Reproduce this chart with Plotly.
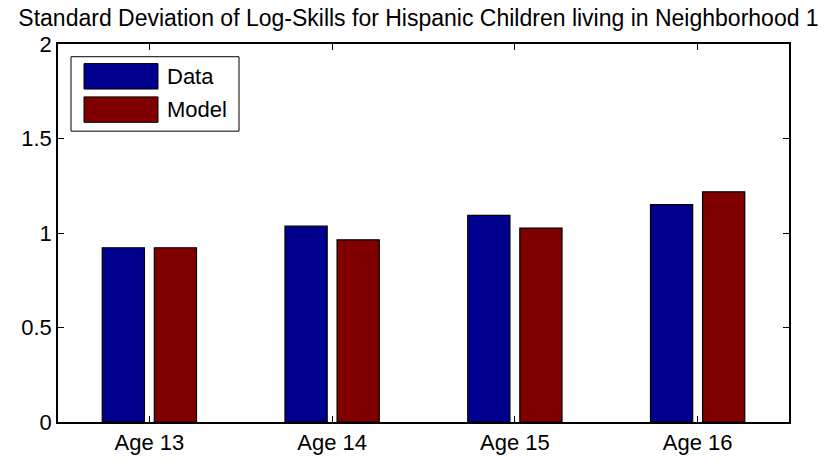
import plotly.graph_objects as go

W, H = 837, 467
ML, MR, MT, MB = 58, 48, 44, 37

ages = ["Age 13", "Age 14", "Age 15", "Age 16"]
positions = [1, 2, 3, 4]
data_sd = [0.922, 1.036, 1.093, 1.150]
model_sd = [0.922, 0.964, 1.026, 1.218]
series_names = ["Data", "Model"]
series_colors = ["#00008F", "#800000"]

FONT = "Liberation Sans, Arial, sans-serif"
INK = "#000000"

fig = go.Figure()
for name, vals, col in zip(series_names, [data_sd, model_sd], series_colors):
    fig.add_trace(go.Bar(
        x=positions, y=vals, name=name,
        marker_color=col,
        marker_line_color="#000000",
        marker_line_width=1.2,
        showlegend=False,
    ))

fig.update_layout(
    width=W, height=H,
    margin=dict(l=ML, r=MR, t=MT, b=MB),
    paper_bgcolor="#FFFFFF",
    plot_bgcolor="#FFFFFF",
    font=dict(family=FONT, size=22, color=INK),
    barmode="group",
    bargap=0.43,
    bargroupgap=0.19,
    title=dict(
        text="Standard Deviation of Log-Skills for Hispanic Children living in Neighborhood 1",
        x=0.5, xanchor="center", y=1 - 18 / H, yanchor="middle",
        font=dict(family=FONT, size=23, color=INK),
    ),
)

axis_style = dict(
    showline=True, linecolor=INK, linewidth=1.5, mirror="ticks",
    ticks="inside", ticklen=6, tickcolor=INK, tickwidth=1,
    showgrid=False, zeroline=False,
    tickfont=dict(family=FONT, size=22, color=INK),
)
fig.update_xaxes(range=[0.5, 4.5], tickvals=positions, ticktext=ages, **axis_style)
fig.update_yaxes(range=[0, 2], tickvals=[0, 0.5, 1, 1.5, 2], ticktext=["0", "0.5", "1", "1.5", "2"], **axis_style)

# legend box drawn like MATLAB's, with wide swatches (pixel coords)
pw, ph = W - ML - MR, H - MT - MB


def px_x(v):
    return (v - ML) / pw


def px_y(v):
    return (H - MB - v) / ph


fig.add_shape(type="rect", xref="paper", yref="paper",
              x0=px_x(71), x1=px_x(239), y0=px_y(133), y1=px_y(57),
              line=dict(color=INK, width=1), fillcolor="#FFFFFF")
for i, (name, col) in enumerate(zip(series_names, series_colors)):
    top = 64 + i * 34
    fig.add_shape(type="rect", xref="paper", yref="paper",
                  x0=px_x(84), x1=px_x(158), y0=px_y(top + 26), y1=px_y(top),
                  line=dict(color=INK, width=1), fillcolor=col)
    fig.add_annotation(xref="paper", yref="paper", x=px_x(165), y=px_y(top + 13),
                       text=name, showarrow=False, xanchor="left", yanchor="middle",
                       font=dict(family=FONT, size=22, color=INK))

# drop the page's default body margin so the figure fills the window
fig.write_html("out.html", config={"displayModeBar": False},
               post_script="document.body.style.margin='0';")
